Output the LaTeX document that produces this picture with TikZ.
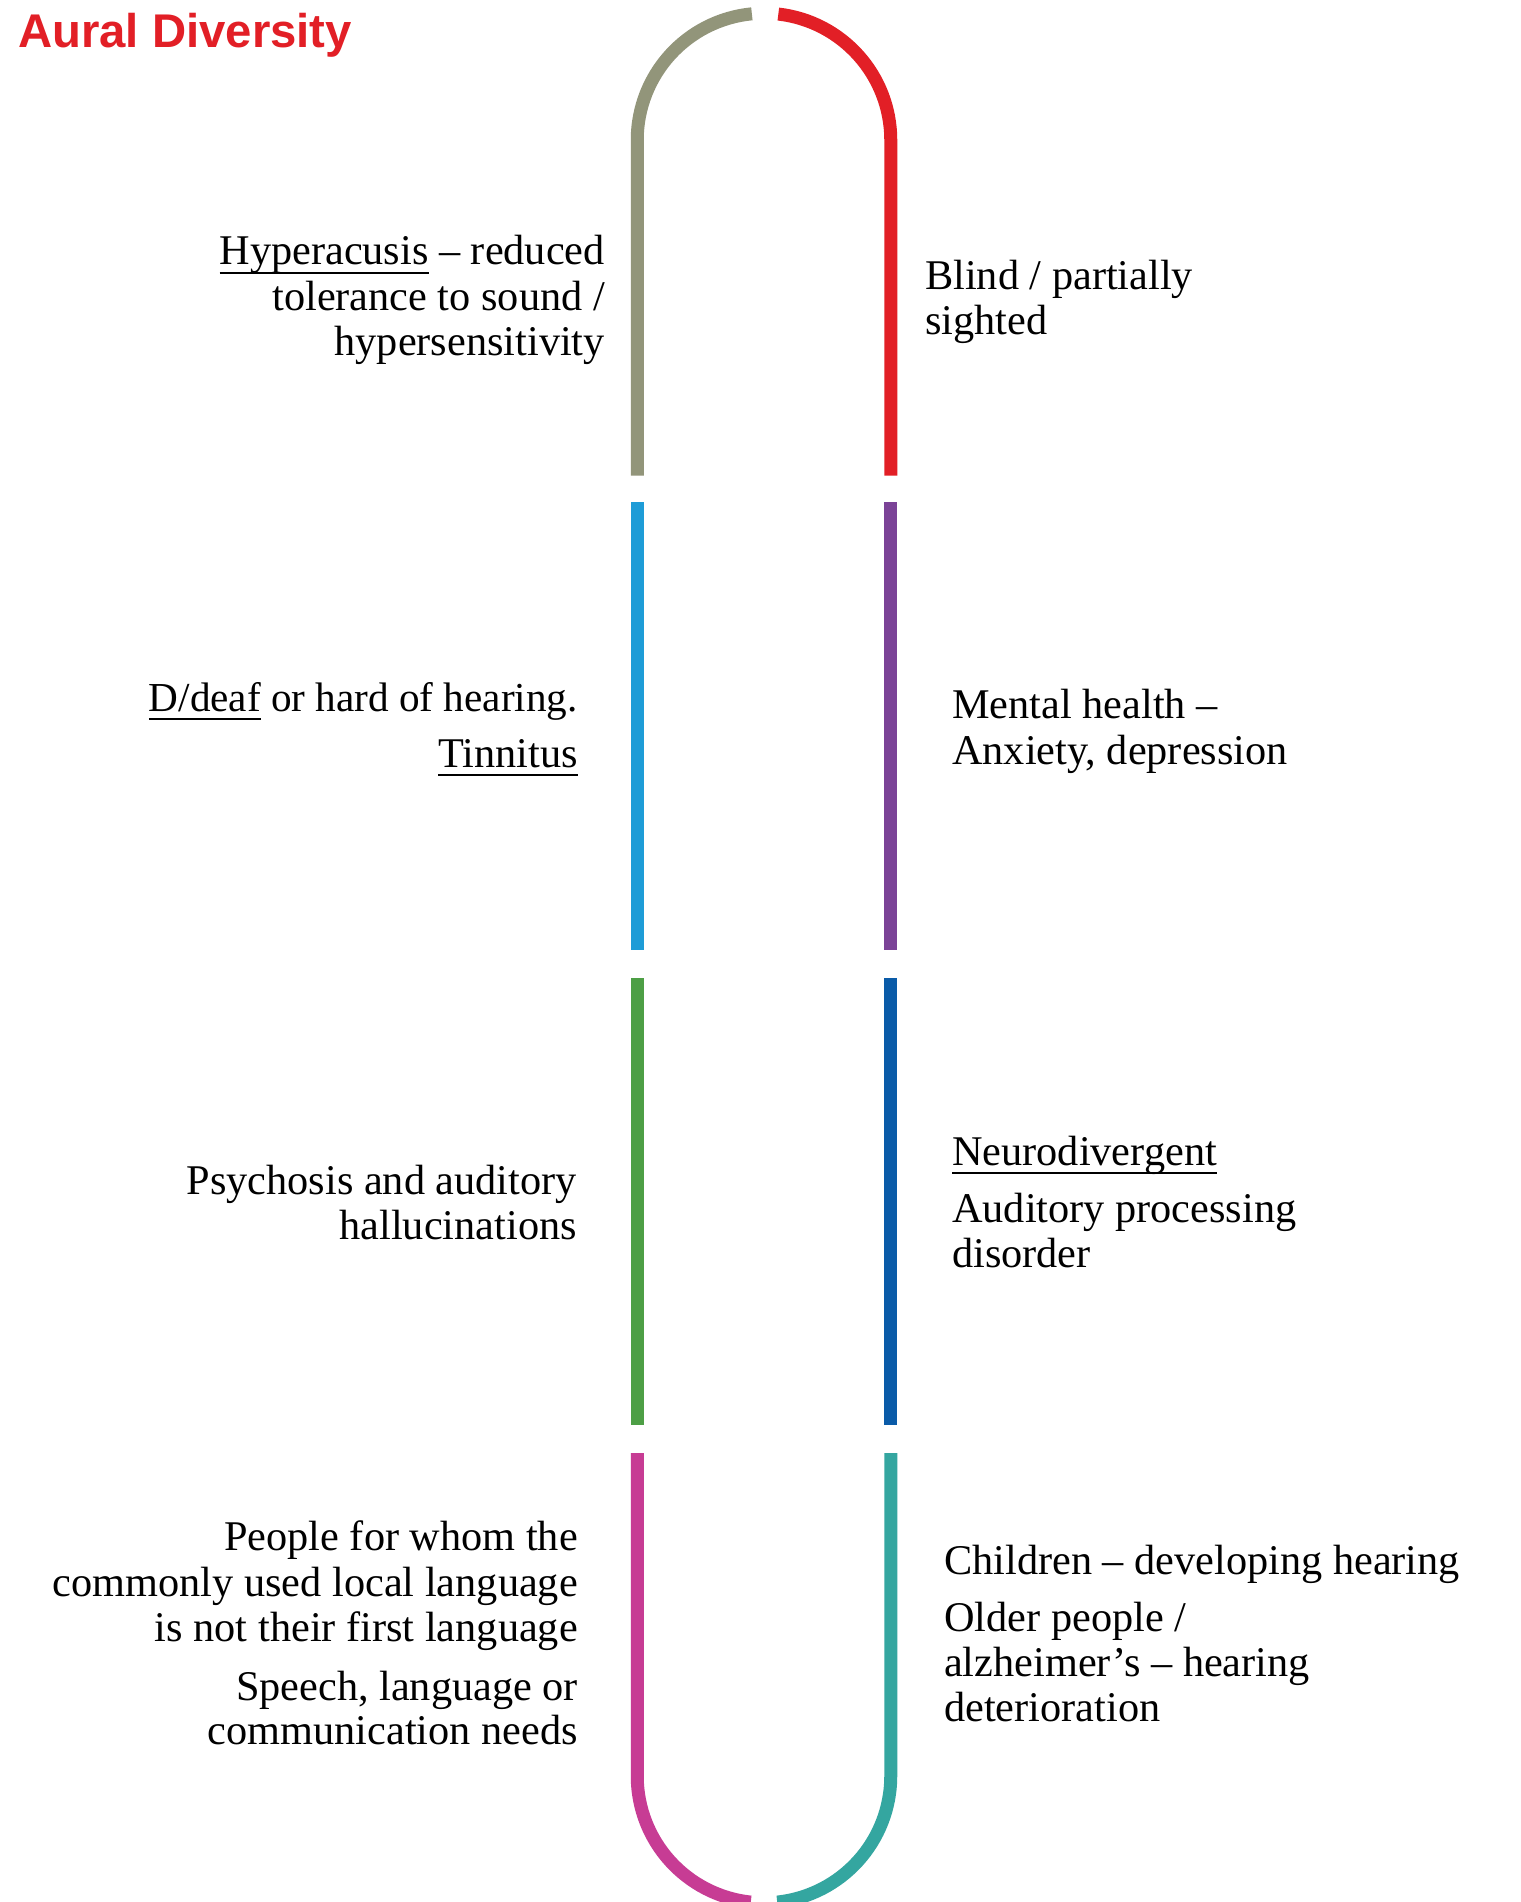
\documentclass[tikz,border=0pt]{standalone}
\usepackage{fontspec}
\setmainfont{Liberation Serif}
\newfontfamily\titlefont{Liberation Sans}
\definecolor{cgray}{HTML}{92957A}
\definecolor{cred}{HTML}{E21F26}
\definecolor{cblue}{HTML}{1E9CD7}
\definecolor{cpurple}{HTML}{7B4397}
\definecolor{cgreen}{HTML}{4D9F45}
\definecolor{cdblue}{HTML}{0A5BA8}
\definecolor{cmag}{HTML}{C73C94}
\definecolor{cteal}{HTML}{34A6A0}
\newcommand\myul[1]{\setbox0\hbox{#1}\rlap{\rule[-9pt]{\wd0}{2.2pt}}\box0\relax}
\tikzset{
  seg/.style={line width=13pt},
  lt/.style={anchor=base east, inner sep=0pt, font=\fontsize{42.3}{46}\selectfont},
  rt/.style={anchor=base west, inner sep=0pt, font=\fontsize{42.3}{46}\selectfont},
  ttl/.style={anchor=base west, inner sep=0pt, text=cred, font=\titlefont\bfseries\fontsize{47.3}{50}\selectfont}
}
\begin{document}
\begin{tikzpicture}[x=1pt,y=1pt]
\useasboundingbox (0,0) rectangle (1520,-1902);
\clip (0,0) rectangle (1520,-1902);
\fill[white] (0,0) rectangle (1520,-1902);

% capsule segments
\draw[seg, cgray] (637.25,-475.5) -- (637.25,-140) arc[start angle=180, end angle=95.5, radius=126.75];
\draw[seg, cred] ([shift={(764,-140)}]83.5:126.75) arc[start angle=83.5, end angle=0, radius=126.75] -- (890.75,-475.5);
\draw[seg, cblue] (637.25,-502) -- (637.25,-950);
\draw[seg, cpurple] (890.75,-502) -- (890.75,-950);
\draw[seg, cgreen] (637.25,-978) -- (637.25,-1425);
\draw[seg, cdblue] (890.75,-978) -- (890.75,-1425);
\draw[seg, cmag] (637.25,-1453) -- (637.25,-1776) arc[start angle=180, end angle=264, radius=126.75];
\draw[seg, cteal] ([shift={(764,-1776)}]276:126.75) arc[start angle=276, end angle=360, radius=126.75] -- (890.75,-1453);

% title
\node[ttl] (title) at (18,-48) {Aural Diversity};

% left 1
\node[lt] (l1a) at (605,-265) {\myul{Hyperacusis} – reduced};
\node[lt] (l1b) at (605,-310) {tolerance to sound /};
\node[lt] (l1c) at (605,-355) {hypersensitivity};
% right 1
\node[rt] (r1a) at (925,-289) {Blind / partially};
\node[rt] (r1b) at (925,-334) {sighted};
% left 2
\node[lt, font=\fontsize{41.2}{46}\selectfont] (l2a) at (578,-711) {\myul{D/deaf} or hard of hearing.};
\node[lt] (l2b) at (578,-767) {\myul{Tinnitus}};
% right 2
\node[rt] (r2a) at (952,-718) {Mental health –};
\node[rt] (r2b) at (952,-764) {Anxiety, depression};
% left 3
\node[lt] (l3a) at (577,-1194) {Psychosis and auditory};
\node[lt] (l3b) at (577,-1239) {hallucinations};
% right 3
\node[rt] (r3a) at (952,-1165) {\myul{Neurodivergent}};
\node[rt] (r3b) at (952,-1222) {Auditory processing};
\node[rt] (r3c) at (952,-1267) {disorder};
% left 4
\node[lt] (l4a) at (578,-1550) {People for whom the};
\node[lt] (l4b) at (578,-1596) {commonly used local language};
\node[lt] (l4c) at (578,-1641) {is not their first language};
\node[lt] (l4d) at (578,-1700) {Speech, language or};
\node[lt] (l4e) at (578,-1744) {communication needs};
% right 4
\node[rt] (r4a) at (944,-1574) {Children – developing hearing};
\node[rt] (r4b) at (944,-1631) {Older people /};
\node[rt] (r4c) at (944,-1676) {alzheimer’s – hearing};
\node[rt] (r4d) at (944,-1721) {deterioration};
\end{tikzpicture}
\end{document}
